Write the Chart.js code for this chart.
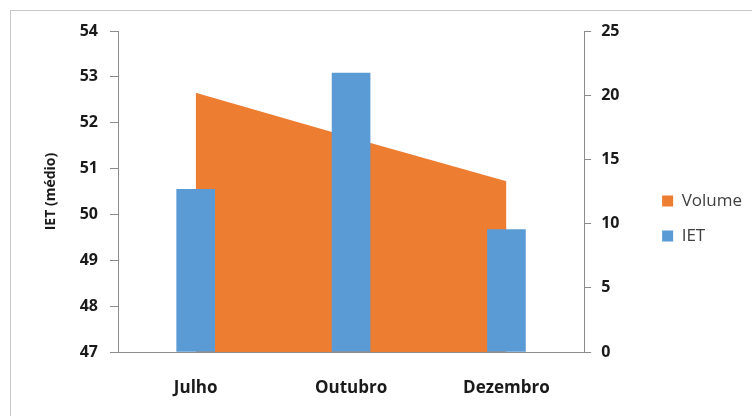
<!DOCTYPE html>
<html><head><meta charset="utf-8">
<script src="https://cdn.jsdelivr.net/npm/chart.js@4.4.1/dist/chart.umd.min.js"></script>
<style>
html,body{margin:0;padding:0;background:#fff;}
#wrap{position:relative;width:752px;height:416px;}
#frame{position:absolute;left:10px;top:10px;width:760px;height:420px;border:1px solid #c8c8c8;box-sizing:border-box;pointer-events:none;}
canvas{position:absolute;left:0;top:0;}
</style></head><body>
<div id="wrap"><canvas id="c" width="752" height="416"></canvas><div id="frame"></div></div>
<script>
const categories = ['Julho', 'Outubro', 'Dezembro'];
const volumeValues = [20.2, 16.7, 13.3];
const ietValues = [50.55, 53.08, 49.67];
const leftTicks = [47, 54, 1];
const rightTicks = [0, 25, 5];

const axisColor = '#8c8c8c';
const tickFont = {family: "'Open Sans', sans-serif", size: 16, weight: 'bold'};

new Chart(document.getElementById('c'), {
  data: {
    labels: categories,
    datasets: [
      {type: 'line', label: 'Volume', data: volumeValues, yAxisID: 'y2', order: 1,
       fill: 'origin', backgroundColor: '#ED7D31', borderColor: '#ED7D31', borderWidth: 0,
       pointRadius: 0, tension: 0},
      {type: 'bar', label: 'IET', data: ietValues, yAxisID: 'y', order: 0,
       backgroundColor: '#5B9BD5', barThickness: 38, base: 47}
    ]
  },
  options: {
    responsive: false, animation: false,
    layout: {padding: {left: 39, top: 31, right: 0, bottom: 10}},
    plugins: {
      tooltip: {enabled: false},
      legend: {position: 'right',
        labels: {boxWidth: 11, boxHeight: 11, padding: 18, color: '#404040',
          sort: (a, b) => a.datasetIndex - b.datasetIndex,
          font: {family: "'Open Sans', sans-serif", size: 17}}}
    },
    scales: {
      x: {
        grid: {display: true, drawOnChartArea: false, drawTicks: false},
        border: {color: axisColor},
        ticks: {color: '#1a1a1a', padding: 26, font: {family: "'Open Sans', sans-serif", size: 17, weight: 'bold'}},
        afterFit: s => { s.height = 416 - 352 - 10; }
      },
      y: {
        position: 'left', min: leftTicks[0], max: leftTicks[1],
        ticks: {stepSize: leftTicks[2], color: '#1a1a1a', padding: 12, font: tickFont},
        grid: {drawOnChartArea: false, drawTicks: true, tickLength: 8, color: axisColor},
        border: {color: axisColor},
        title: {display: true, text: 'IET (médio)', color: '#1a1a1a',
          font: {family: "'Open Sans', sans-serif", size: 14, weight: 'bold'}},
        afterFit: s => { s.width = 118 - 39; }
      },
      y2: {
        position: 'right', min: rightTicks[0], max: rightTicks[1],
        ticks: {stepSize: rightTicks[2], color: '#1a1a1a', padding: 10, font: tickFont},
        grid: {drawOnChartArea: false, drawTicks: true, tickLength: 7, color: axisColor},
        border: {color: axisColor},
        afterFit: s => { s.width = 60; }
      }
    }
  }
});
</script>
</body></html>
